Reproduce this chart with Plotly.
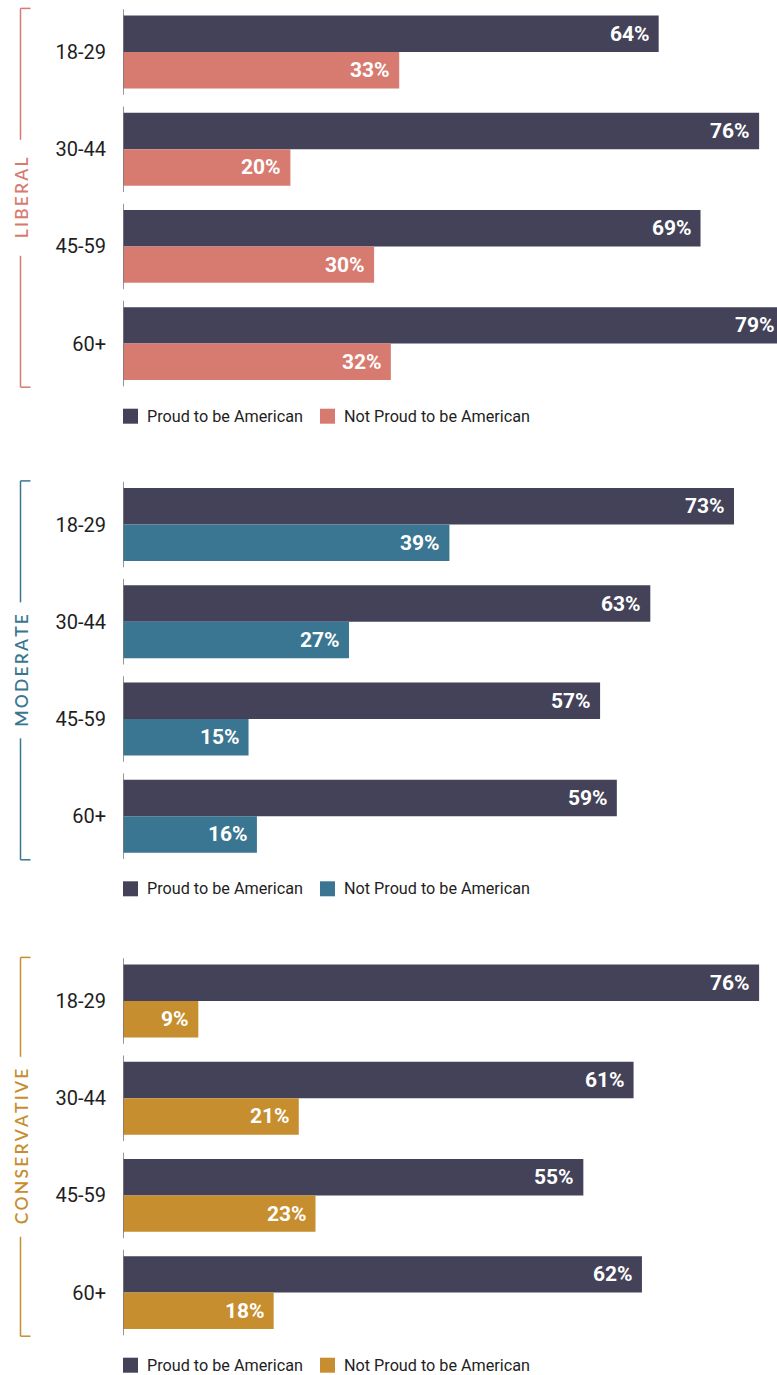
import plotly.graph_objects as go

# ---- data ----
ages = ["18-29", "30-44", "45-59", "60+"]
groups = ["LIBERAL", "MODERATE", "CONSERVATIVE"]
series_names = ["Proud to be American", "Not Proud to be American"]

liberal_proud = [64, 76, 69, 79]
liberal_not = [33, 20, 30, 32]
moderate_proud = [73, 63, 57, 59]
moderate_not = [39, 27, 15, 16]
conservative_proud = [76, 61, 55, 62]
conservative_not = [9, 21, 23, 18]

proud_values = [liberal_proud, moderate_proud, conservative_proud]
not_values = [liberal_not, moderate_not, conservative_not]

# ---- styling ----
W, H = 777, 1375
PROUD_COLOR = "#434259"
GROUP_COLORS = ["#D77B70", "#3A7591", "#C68E2E"]
AXIS_GRAY = "#7a7a7a"
TEXT_COLOR = "#1e1e1e"
NARROW = "Roboto, Liberation Sans, sans-serif"
WIDE = "Lato, Open Sans, sans-serif"

PLOT_LEFT = 123            # px where bars start
PX_PER_UNIT = 8.37         # px per percentage point
X_MAX = (W - PLOT_LEFT) / PX_PER_UNIT

BARGAP = 0.25
BAR_W = (1 - BARGAP) / 2   # width of one bar in category units

# panel vertical extents in px (top, bottom)
panels_px = [(3.4, 392.2), (475.9, 864.8), (952.4, 1341.2)]
label_gap = [58, 68, 90]   # half-height of the gap in the bracket around the vertical title


def py(px):
    return 1 - px / H


def px_x(px):
    return px / W


fig = go.Figure()
shapes = []
annotations = []

for i, name in enumerate(groups):
    ax_suffix = "" if i == 0 else str(i + 1)
    xref = "x" + ax_suffix
    yref = "y" + ax_suffix
    top, bot = panels_px[i]
    color = GROUP_COLORS[i]

    series = [(proud_values[i], PROUD_COLOR, series_names[0], -BAR_W / 2),
              (not_values[i], color, series_names[1], BAR_W / 2)]
    for vals, col, sname, offset in series:
        fig.add_trace(go.Bar(
            x=vals, y=ages, orientation="h", name=sname,
            marker=dict(color=col, line=dict(width=0)),
            cliponaxis=True, showlegend=False,
            xaxis=xref, yaxis=yref, hoverinfo="skip",
        ))
        # value label at the end of each bar
        for k, v in enumerate(vals):
            annotations.append(dict(
                xref=xref + " domain", yref=yref,
                x=v / X_MAX, y=k + offset,
                text=f"{v}%", showarrow=False,
                xanchor="right", yanchor="middle", xshift=-7,
                font=dict(family=NARROW, size=21, color="white", weight="bold"),
            ))

    fig.layout["xaxis" + ax_suffix] = dict(
        domain=[px_x(PLOT_LEFT), 1], range=[0, X_MAX],
        showgrid=False, zeroline=False, showticklabels=False,
        showline=False, anchor=yref, fixedrange=True,
    )
    fig.layout["yaxis" + ax_suffix] = dict(
        domain=[py(bot), py(top)], type="category", categoryarray=ages,
        range=[3.5, -0.5], showgrid=False, zeroline=False, showline=False,
        ticks="", ticklabelstandoff=16, anchor=xref,
        tickfont=dict(family=NARROW, size=20, color=TEXT_COLOR),
        fixedrange=True,
    )

    # short axis segment beside each age group
    for k in range(len(ages)):
        shapes.append(dict(type="line", xref=xref, yref=yref,
                           x0=0, x1=0, y0=k - 0.44, y1=k + 0.44,
                           line=dict(color=AXIS_GRAY, width=1.6), layer="above"))

    # bracket with vertical group title
    btop, bbot = top + 5, bot - 5
    mid = (top + bot) / 2
    bx, tick_end = 20.5, 30.5
    line_style = dict(color=color, width=1.5)
    shapes += [
        dict(type="line", xref="paper", yref="paper", x0=px_x(bx), x1=px_x(tick_end),
             y0=py(btop), y1=py(btop), line=line_style),
        dict(type="line", xref="paper", yref="paper", x0=px_x(bx), x1=px_x(tick_end),
             y0=py(bbot), y1=py(bbot), line=line_style),
        dict(type="line", xref="paper", yref="paper", x0=px_x(bx), x1=px_x(bx),
             y0=py(btop), y1=py(mid - label_gap[i]), line=line_style),
        dict(type="line", xref="paper", yref="paper", x0=px_x(bx), x1=px_x(bx),
             y0=py(mid + label_gap[i]), y1=py(bbot), line=line_style),
    ]
    annotations.append(dict(
        xref="paper", yref="paper", x=px_x(21.5), y=py(mid),
        text="\u2009".join(name), textangle=-90, showarrow=False,
        xanchor="center", yanchor="middle",
        font=dict(family=WIDE, size=17.5, color=color, weight=600),
    ))

    # legend row under the panel
    ly = bot + 24
    for (sx, col, label) in [(123, PROUD_COLOR, series_names[0]),
                             (320, color, series_names[1])]:
        shapes.append(dict(type="rect", xref="paper", yref="paper",
                           x0=px_x(sx), x1=px_x(sx + 15),
                           y0=py(ly - 7.5), y1=py(ly + 7.5),
                           fillcolor=col, line=dict(width=0)))
        annotations.append(dict(
            xref="paper", yref="paper", x=px_x(sx + 22), y=py(ly),
            text=label, showarrow=False, xanchor="left", yanchor="middle",
            font=dict(family=NARROW, size=16.2, color=TEXT_COLOR),
        ))

fig.update_layout(
    width=W, height=H,
    margin=dict(l=0, r=0, t=0, b=0),
    paper_bgcolor="white", plot_bgcolor="white",
    barmode="group", bargap=BARGAP, bargroupgap=0,
    shapes=shapes, annotations=annotations,
    showlegend=False,
)

fig.write_html("out.html", config={"displayModeBar": False})
